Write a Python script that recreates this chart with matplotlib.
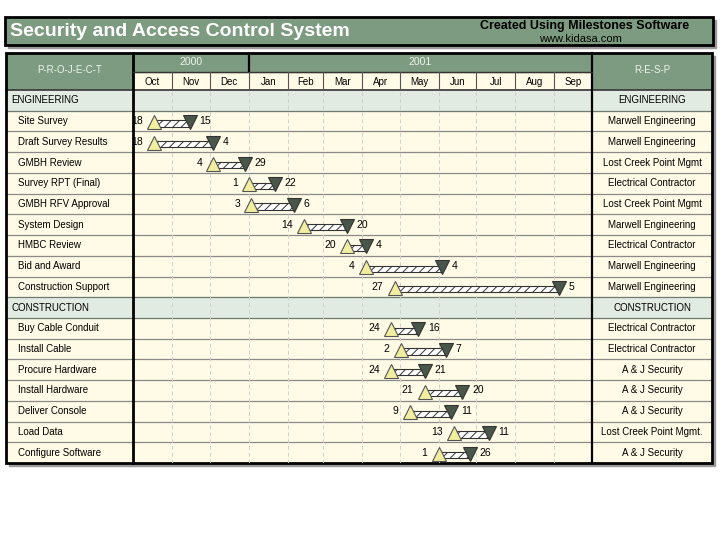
"""
Milestones-style Gantt chart: Security and Access Control System.
"""
import matplotlib

matplotlib.use("Agg")
import matplotlib.pyplot as plt  # noqa: E402
import matplotlib.dates as mdates  # noqa: E402
import pandas as pd  # noqa: E402
from matplotlib.patches import Rectangle  # noqa: E402

plt.rcParams["font.family"] = ["Liberation Sans", "DejaVu Sans"]
plt.rcParams["hatch.linewidth"] = 0.7

# ---- data ---------------------------------------------------------------
eng_tasks = ["Site Survey", "Draft Survey Results", "GMBH Review", "Survey RPT (Final)",
             "GMBH RFV Approval", "System Design", "HMBC Review", "Bid and Award",
             "Construction Support"]
eng_start = ["2000-10-18", "2000-10-18", "2000-12-04", "2001-01-01", "2001-01-03",
             "2001-02-14", "2001-03-20", "2001-04-04", "2001-04-27"]
eng_end = ["2000-11-15", "2000-12-04", "2000-12-29", "2001-01-22", "2001-02-06",
           "2001-03-20", "2001-04-04", "2001-06-04", "2001-09-05"]
eng_resp = ["Marwell Engineering", "Marwell Engineering", "Lost Creek Point Mgmt",
            "Electrical Contractor", "Lost Creek Point Mgmt", "Marwell Engineering",
            "Electrical Contractor", "Marwell Engineering", "Marwell Engineering"]

con_tasks = ["Buy Cable Conduit", "Install Cable", "Procure Hardware", "Install Hardware",
             "Deliver Console", "Load Data", "Configure Software"]
con_start = ["2001-04-24", "2001-05-02", "2001-04-24", "2001-05-21", "2001-05-09",
             "2001-06-13", "2001-06-01"]
con_end = ["2001-05-16", "2001-06-07", "2001-05-21", "2001-06-20", "2001-06-11",
           "2001-07-11", "2001-06-26"]
con_resp = ["Electrical Contractor", "Electrical Contractor", "A & J Security",
            "A & J Security", "A & J Security", "Lost Creek Point Mgmt.", "A & J Security"]

sections = [("ENGINEERING", eng_tasks, eng_start, eng_end, eng_resp),
            ("CONSTRUCTION", con_tasks, con_start, con_end, con_resp)]

months = pd.date_range("2000-10-01", "2001-10-01", freq="MS")
years = [("2000", "2000-10-01", "2001-01-01"), ("2001", "2001-01-01", "2001-10-01")]

# ---- layout (pixels) ----------------------------------------------------
W, H = 720, 540
L, C0, C1, R = 6, 133, 592, 712       # table left, chart left/right, table right
TOP, YR, MO, BOT = 53, 72, 90, 463    # header rows and table bottom
GREEN = "#7d9b80"
CREAM = "#fffbe6"
SECT = "#e2ebe1"

rows = []
for name, tasks, st, en, rp in sections:
    rows.append(("section", name, None, None, name))
    for t, s, e, r in zip(tasks, st, en, rp):
        rows.append(("task", t, s, e, r))
n = len(rows)
rh = (BOT - MO) / n

fig = plt.figure(figsize=(7.2, 5.4), dpi=100)
bg = fig.add_axes([0, 0, 1, 1])
bg.set_xlim(0, W)
bg.set_ylim(H, 0)
bg.axis("off")

# title bar
bg.add_patch(Rectangle((8, 20), 708, 28, color="#9a9a9a", zorder=0))
bg.add_patch(Rectangle((5, 17), 708, 28, facecolor=GREEN, edgecolor="black", lw=2, zorder=1))
bg.text(10, 32, "Security and Access Control System", color="white", fontsize=14,
        fontweight="bold", va="center", ha="left", zorder=2)
bg.text(689, 26, "Created Using Milestones Software", fontsize=9, fontweight="bold",
        va="center", ha="right", zorder=2)
bg.text(580, 39, "www.kidasa.com", fontsize=8, va="center", ha="center", zorder=2)

# table shadow + header cells
bg.add_patch(Rectangle((L + 3, TOP + 3), R - L, BOT - TOP, color="#9a9a9a", zorder=0))
bg.add_patch(Rectangle((L, TOP), R - L, BOT - TOP, color=CREAM, zorder=1))
bg.add_patch(Rectangle((L, TOP), C0 - L, MO - TOP, color=GREEN, zorder=1))
bg.add_patch(Rectangle((C1, TOP), R - C1, MO - TOP, color=GREEN, zorder=1))
bg.add_patch(Rectangle((C0, TOP), C1 - C0, YR - TOP, color=GREEN, zorder=1))
bg.text((L + C0) / 2, 70, "P-R-O-J-E-C-T", color="#eef3ee", fontsize=7, ha="center", va="center", zorder=3)
bg.text((C1 + R) / 2, 70, "R-E-S-P", color="#eef3ee", fontsize=7, ha="center", va="center", zorder=3)

# rows
for i, (kind, label, s, e, resp) in enumerate(rows):
    y0 = MO + i * rh
    yc = y0 + rh / 2
    if kind == "section":
        bg.add_patch(Rectangle((L, y0), R - L, rh, color=SECT, zorder=1))
        bg.text(11, yc, label, fontsize=7, ha="left", va="center", zorder=3)
    else:
        bg.text(18, yc, label, fontsize=7, ha="left", va="center", zorder=3)
    bg.text((C1 + R) / 2, yc, resp, fontsize=7, ha="center", va="center", zorder=3)
    if i > 0:
        bg.plot([L, R], [y0, y0], color="#6f7a70" if kind == "section" or rows[i - 1][0] == "section" else "#8a8a8a",
                lw=0.9, zorder=2)

# frame lines
bg.plot([L, R], [MO, MO], color="#333333", lw=1.2, zorder=4)
bg.plot([C0, C0], [TOP, BOT], color="black", lw=2, zorder=4)
bg.plot([C1, C1], [TOP, BOT], color="black", lw=1.6, zorder=4)
bg.plot([C0, C1], [YR, YR], color="#333333", lw=1, zorder=4)
bg.add_patch(Rectangle((L, TOP), R - L, BOT - TOP, fill=False, edgecolor="black", lw=2, zorder=5))

xmin, xmax = mdates.date2num(months[0]), mdates.date2num(months[-1])

# year header
ay = fig.add_axes([C0 / W, 1 - YR / H, (C1 - C0) / W, (YR - TOP) / H])
ay.set_xlim(xmin, xmax)
ay.set_ylim(0, 1)
ay.axis("off")
for label, a, b in years:
    a, b = mdates.datestr2num(a), mdates.datestr2num(b)
    ay.text((a + b) / 2, 0.55, label, color="#eef3ee", fontsize=7.5, ha="center", va="center")
ay.axvline(mdates.datestr2num(years[1][1]), color="black", lw=1.6)

# month header
am = fig.add_axes([C0 / W, 1 - MO / H, (C1 - C0) / W, (MO - YR) / H])
am.set_xlim(xmin, xmax)
am.set_ylim(0, 1)
am.axis("off")
for a, b in zip(months[:-1], months[1:]):
    a, b = mdates.date2num(a), mdates.date2num(b)
    am.text((a + b) / 2, 0.45, pd.Timestamp(mdates.num2date(a)).strftime("%b"),
            fontsize=7, ha="center", va="center")
    if a > xmin:
        am.axvline(a, color="#555555", lw=0.8)

# chart area
ax = fig.add_axes([C0 / W, 1 - BOT / H, (C1 - C0) / W, (BOT - MO) / H])
ax.patch.set_alpha(0)
ax.set_xlim(xmin, xmax)
ax.set_ylim(n, 0)
ax.axis("off")
for m in months[1:-1]:
    ax.axvline(mdates.date2num(m), color="#cfcfcf", lw=0.7, ls=(0, (4, 3)), zorder=1)

for i, (kind, label, s, e, resp) in enumerate(rows):
    if kind != "task":
        continue
    s_num, e_num = mdates.datestr2num(s), mdates.datestr2num(e)
    y = i + 0.5
    ax.barh(y + 0.12, e_num - s_num, left=s_num, height=0.3, color="white",
            edgecolor="#333333", hatch="////", lw=0.8, zorder=3)
    ax.plot(s_num, y + 0.05, marker="^", ms=10.5, mfc="#f2eea0", mec="#555555", mew=0.8, zorder=4)
    ax.plot(e_num, y + 0.05, marker="v", ms=10.5, mfc="#48574a", mec="#333333", mew=0.8, zorder=4)
    ax.annotate(str(pd.Timestamp(s).day), (s_num, y), xytext=(-8, 0), textcoords="offset points",
                ha="right", va="center", fontsize=7.5, zorder=5)
    ax.annotate(str(pd.Timestamp(e).day), (e_num, y), xytext=(7, 0), textcoords="offset points",
                ha="left", va="center", fontsize=7.5, zorder=5)

fig.savefig("out.png", dpi=100)
plt.close(fig)
